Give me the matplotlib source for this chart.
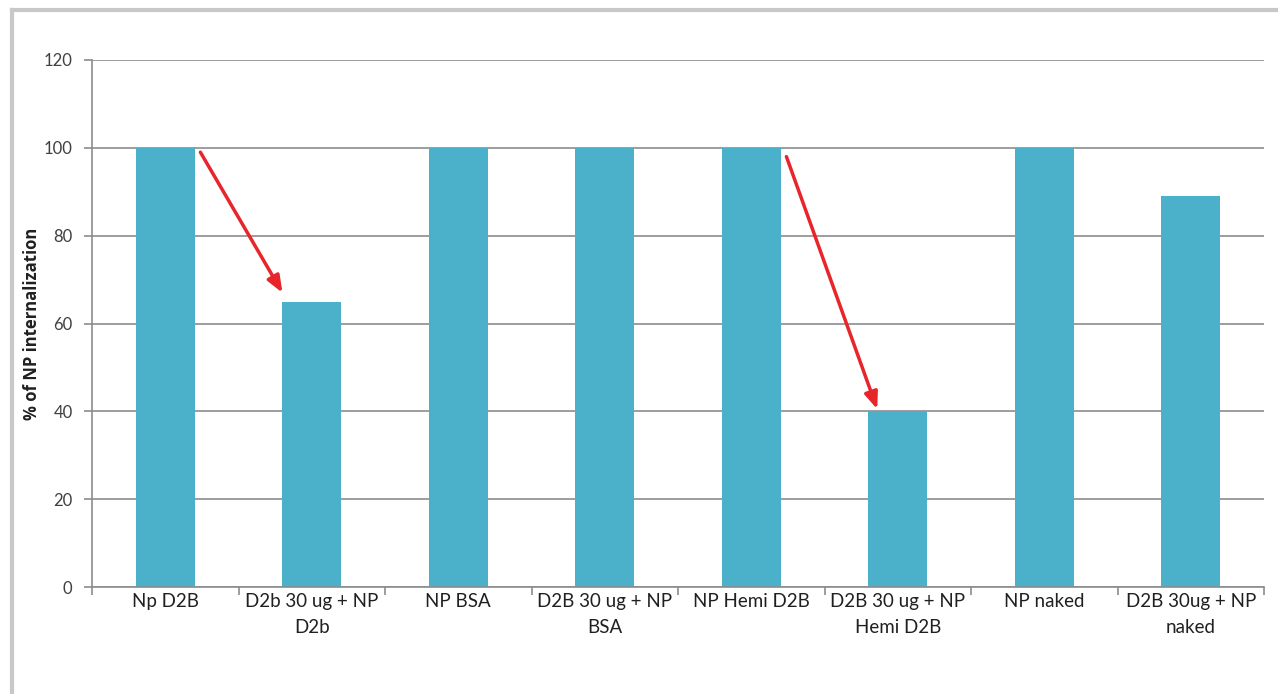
import matplotlib
matplotlib.use("Agg")
import matplotlib.pyplot as plt
from matplotlib.lines import Line2D

categories = ["Np D2B", "D2b 30 ug + NP\nD2b", "NP BSA", "D2B 30 ug + NP\nBSA",
              "NP Hemi D2B", "D2B 30 ug + NP\nHemi D2B", "NP naked", "D2B 30ug + NP\nnaked"]
values = [100, 65, 100, 100, 100, 40, 100, 89]
yticks = [0, 20, 40, 60, 80, 100, 120]
ylabel = "% of NP internalization"

# arrows: (tail x, tail y) -> (head x, head y) in data coordinates
arrows = [((0.24, 99.0), (0.80, 67.0)),
          ((4.24, 98.0), (4.86, 40.5))]

plt.rcParams['font.family'] = ['Lato', 'DejaVu Sans']

W, H = 1278, 694
fig = plt.figure(figsize=(W / 100, H / 100), dpi=100)
ax = fig.add_axes([92 / W, 1 - 587 / H, (1264 - 92) / W, (587 - 60) / H])

x = list(range(len(categories)))
ax.bar(x, values, width=0.4, color="#4BB0CA", zorder=2)

ax.set_xlim(-0.5, len(categories) - 0.5)
ax.set_ylim(0, 120)
ax.set_yticks(yticks)
ax.set_yticklabels([str(v) for v in yticks], fontsize=12, color="#404040")
ax.yaxis.grid(True, color="#8c8c8c", linewidth=1.2, zorder=1)
ax.set_axisbelow(True)

ax.set_xticks(x)
ax.set_xticklabels(categories, fontsize=13.5, color="#202020", linespacing=1.65)
ax.tick_params(axis="x", length=0, pad=4)
ax.set_xticks([i + 0.5 for i in range(-1, len(categories))], minor=True)
ax.tick_params(axis="x", which="minor", length=6, color="#8c8c8c", width=1.2)
ax.tick_params(axis="y", length=6, color="#8c8c8c", width=1.2, pad=8)

for side in ("top", "right"):
    ax.spines[side].set_visible(False)
for side in ("left", "bottom"):
    ax.spines[side].set_color("#8c8c8c")
    ax.spines[side].set_linewidth(1.2)

ax.set_ylabel(ylabel, fontsize=12, fontweight="bold", color="#202020",
              labelpad=2, family=['Open Sans', 'DejaVu Sans'])

for (tx, ty), (hx, hy) in arrows:
    ax.annotate("", xy=(hx, hy), xytext=(tx, ty),
                arrowprops=dict(arrowstyle="-|>,head_length=1.0,head_width=0.4",
                                color="#e8252b", lw=2.5, shrinkA=0, shrinkB=0),
                zorder=5)

# light frame along the top and left edges
fig.add_artist(Line2D([12 / W, 12 / W], [0, 1 - 10 / H], transform=fig.transFigure,
                      color="#c8c8c8", linewidth=3))
fig.add_artist(Line2D([12 / W, 1], [1 - 10 / H, 1 - 10 / H], transform=fig.transFigure,
                      color="#c8c8c8", linewidth=3))

fig.savefig("out.png", dpi=100, facecolor="white")
